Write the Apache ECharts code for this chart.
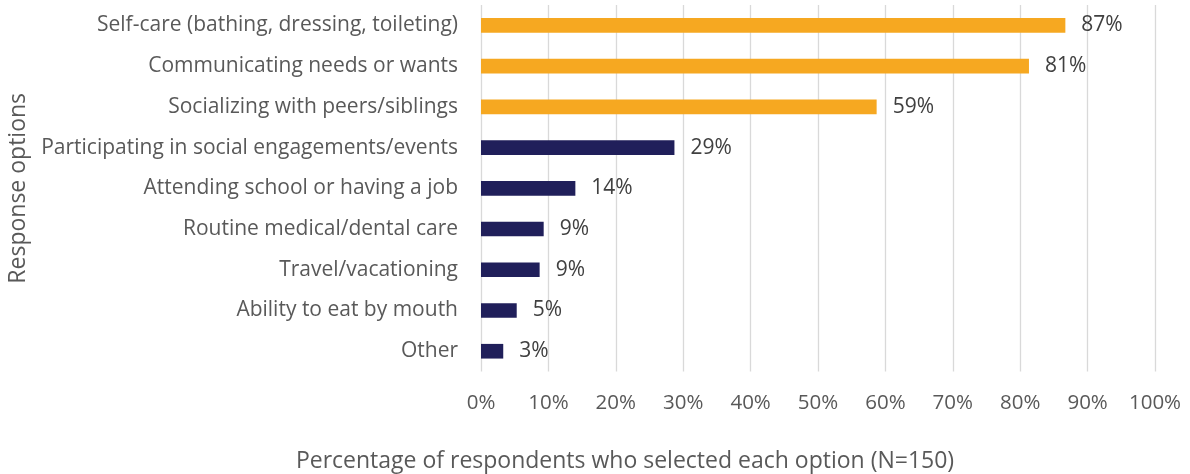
<!DOCTYPE html>
<html><head><meta charset="utf-8">
<script src="https://cdn.jsdelivr.net/npm/echarts@6/dist/echarts.min.js"></script>
<style>html,body{margin:0;padding:0;background:#fff}#c{width:1190px;height:474px}</style>
</head><body><div id="c"></div>
<script>
const categories = [
  "Self-care (bathing, dressing, toileting)",
  "Communicating needs or wants",
  "Socializing with peers/siblings",
  "Participating in social engagements/events",
  "Attending school or having a job",
  "Routine medical/dental care",
  "Travel/vacationing",
  "Ability to eat by mouth",
  "Other"
];
const values = [86.7, 81.3, 58.7, 28.7, 14.0, 9.3, 8.7, 5.3, 3.3];
const highlighted = [true, true, true, false, false, false, false, false, false];
const xTicks = [0, 10, 20, 30, 40, 50, 60, 70, 80, 90, 100];
const xTitle = "Percentage of respondents who selected each option (N=150)";
const yTitle = "Response options";

const FONT = "Open Sans";
const chart = echarts.init(document.getElementById('c'), null, {renderer: 'canvas'});
chart.setOption({
  animation: false,
  grid: {left: 481, right: 35, top: 5, bottom: 102.4, containLabel: false, outerBoundsMode: 'none'},
  xAxis: {
    type: 'value', min: xTicks[0], max: xTicks[xTicks.length - 1], interval: xTicks[1] - xTicks[0],
    axisLine: {show: false}, axisTick: {show: false},
    splitLine: {lineStyle: {color: '#d9d9d9', width: 1.3}},
    axisLabel: {formatter: v => v + '%', color: '#595959', fontFamily: FONT, fontSize: 20.5, margin: 21}
  },
  yAxis: {
    type: 'category', data: categories, inverse: true,
    axisLine: {show: false}, axisTick: {show: false},
    axisLabel: {color: '#595959', fontFamily: FONT, fontSize: 21, margin: 23, padding: [4, 0, 0, 0]},
    name: yTitle, nameLocation: 'middle', nameGap: 450, nameRotate: 90,
    nameTextStyle: {color: '#595959', fontFamily: FONT, fontSize: 23}
  },
  graphic: [{
    type: 'text', x: 625, y: 461,
    style: {text: xTitle, fill: '#595959', font: '23px ' + FONT, textAlign: 'center', textVerticalAlign: 'middle'}
  }],
  series: [{
    type: 'bar', barWidth: '36%',
    data: values.map((v, i) => ({value: v, itemStyle: {color: highlighted[i] ? '#F6A821' : '#201F5A'}})),
    label: {show: true, position: 'right', distance: 16, formatter: p => Math.round(p.value) + '%',
      color: '#404040', fontFamily: FONT, fontSize: 21, padding: [4, 0, 0, 0]}
  }]
});
</script></body></html>
